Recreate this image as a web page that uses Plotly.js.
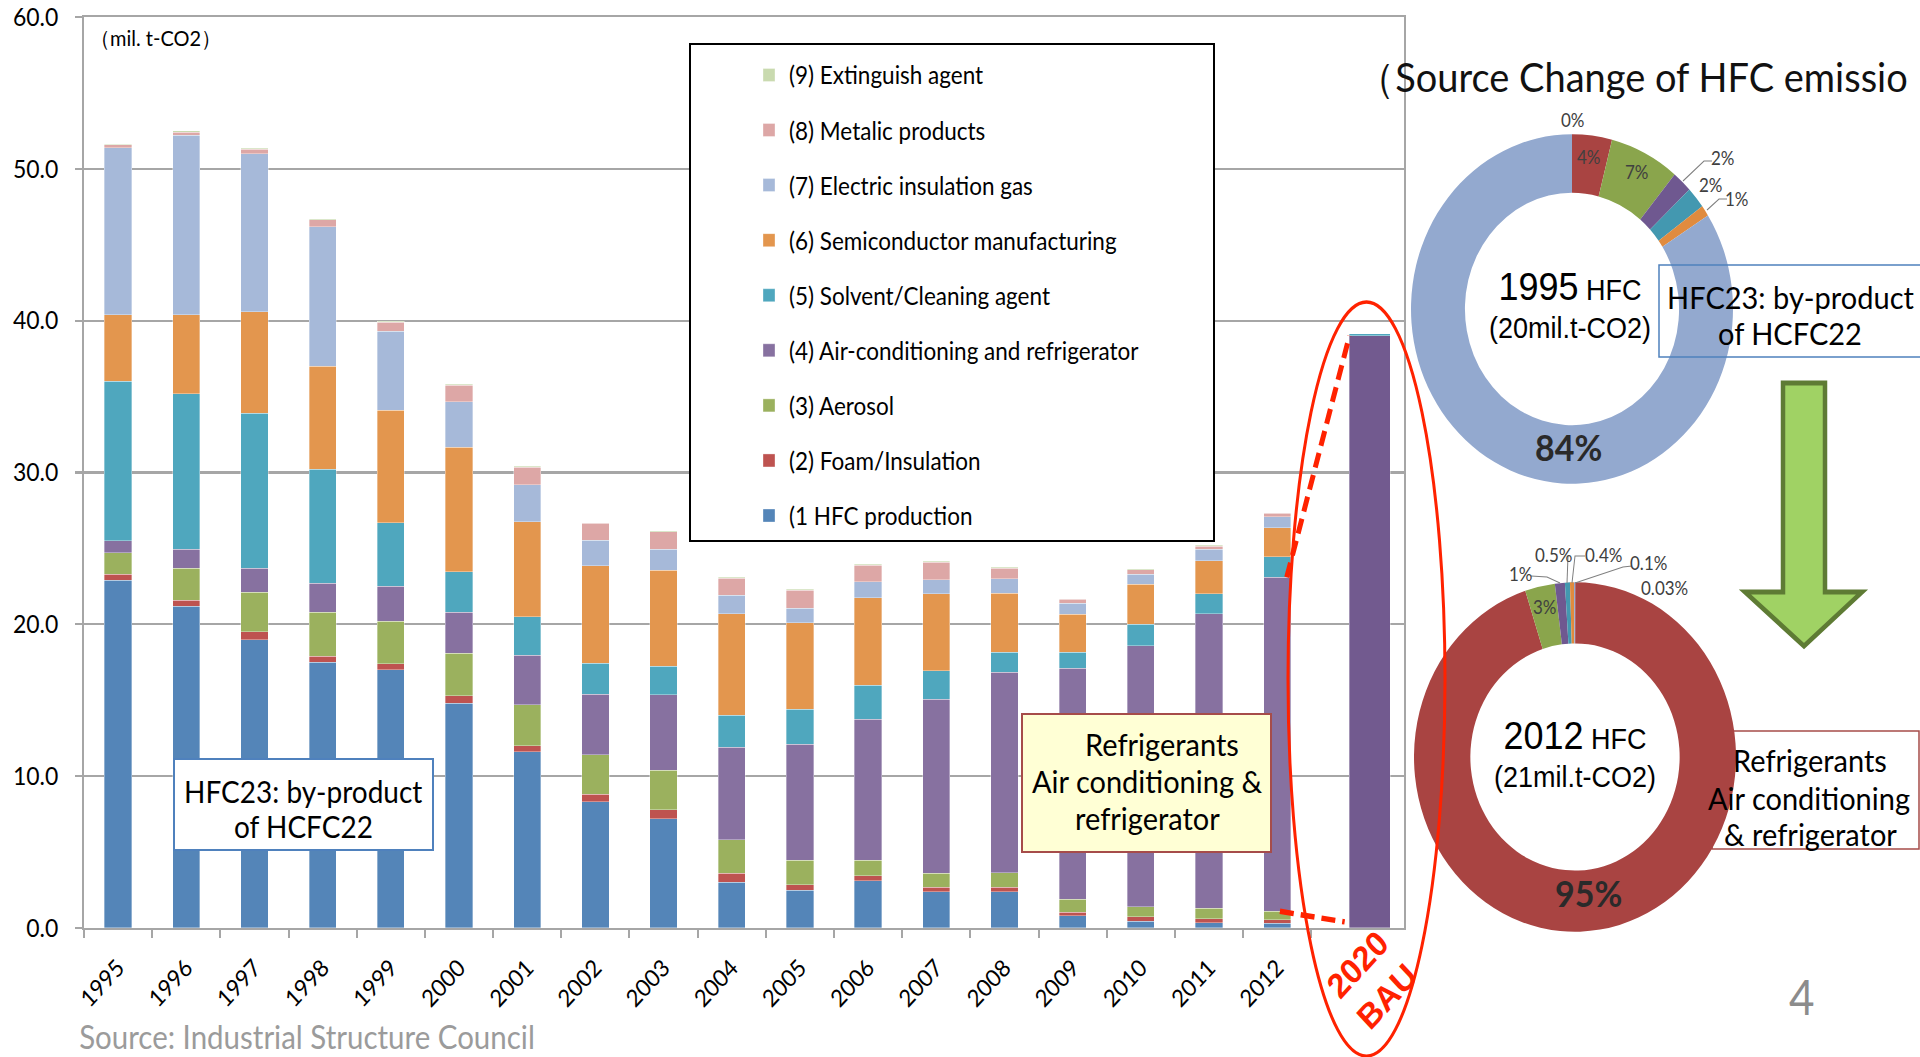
<!DOCTYPE html>
<html><head><meta charset="utf-8">
<script src="https://cdn.plot.ly/plotly-3.0.1.min.js"></script>
<style>
html,body{margin:0;padding:0;overflow:hidden;background:#fff;}
#wrap{width:1920px;height:1057px;overflow:hidden;position:relative;}
#chart{width:1920px;height:974px;transform:scaleY(1.08522);transform-origin:0 0;}
</style></head>
<body><div id="wrap"><div id="chart"></div></div>
<script>
// ---------------- data ----------------
const years = ['1995','1996','1997','1998','1999','2000','2001','2002','2003','2004','2005','2006','2007','2008','2009','2010','2011','2012','2020 BAU'];
const hfcProduction = [22.9,21.2,19.0,17.5,17.0,14.8,11.6,8.3,7.2,3.0,2.5,3.1,2.4,2.4,0.8,0.45,0.35,0.3,0];
const foamInsulation = [0.4,0.4,0.5,0.4,0.4,0.5,0.4,0.5,0.6,0.6,0.35,0.35,0.3,0.3,0.25,0.3,0.25,0.25,0];
const aerosol = [1.4,2.1,2.6,2.9,2.8,2.8,2.7,2.6,2.6,2.2,1.6,1.0,0.9,0.95,0.85,0.65,0.7,0.55,0];
const airConditioning = [0.8,1.25,1.6,1.9,2.3,2.7,3.25,4.0,4.95,6.1,7.65,9.3,11.45,13.2,15.2,17.2,19.4,22.0,39.0];
const solventCleaning = [10.5,10.25,10.2,7.5,4.2,2.65,2.55,2.05,1.9,2.1,2.3,2.25,1.9,1.3,1.05,1.4,1.3,1.35,0.15];
const semiconductor = [4.4,5.2,6.7,6.8,7.4,8.2,6.25,6.4,6.3,6.7,5.7,5.75,5.05,3.9,2.5,2.65,2.2,1.9,0];
const electricInsulation = [11.0,11.8,10.4,9.2,5.2,3.0,2.45,1.7,1.4,1.2,0.95,1.05,0.95,0.95,0.75,0.65,0.75,0.75,0];
const metalicProducts = [0.2,0.2,0.3,0.45,0.6,1.1,1.15,1.1,1.15,1.15,1.2,1.1,1.15,0.7,0.25,0.3,0.2,0.2,0];
const extinguishAgent = [0.02,0.1,0.05,0.05,0.05,0.05,0.05,0.05,0.05,0.05,0.05,0.05,0.05,0.05,0.05,0.05,0.05,0.05,0];
const seriesNames = ['(1 HFC production','(2) Foam/Insulation','(3) Aerosol','(4) Air-conditioning and refrigerator','(5) Solvent/Cleaning agent','(6) Semiconductor manufacturing','(7) Electric insulation gas','(8) Metalic products','(9) Extinguish agent'];
const tickYears = years.slice(0, 18);

const donutCategories = ['Extinguish agent','Air-conditioning and refrigerator','Aerosol','Foam/Insulation','Solvent/Cleaning agent','Semiconductor manufacturing','HFC23 by-product'];
const share1995 = [0, 4, 7, 2, 2, 1, 84];
const share2012 = [0.03, 95, 3, 1, 0.5, 0.4, 0.1];

// ---------------- helpers (layout only) ----------------
const K = 1057/974;
const W = 1920, H = 974;
const px = x => x / W;
const py = y => 1 - y / 1057;
const dom = (cx, cy, r) => ({x:[px(cx-r), px(cx+r)], y:[py(cy + r*K), py(cy - r*K)]});
const CAL = 'Lato, "Open Sans", sans-serif';
const ARI = '"Liberation Sans", Arial, sans-serif';
const GRID = '#A6A6A6';

const barColors = ['#5485B8','#BE5350','#9BB15E','#8771A0','#4FA7BE','#E3964E','#A6B9D9','#DDA7A6','#C9DAAF'];
const seriesData = [hfcProduction, foamInsulation, aerosol, airConditioning, solventCleaning, semiconductor, electricInsulation, metalicProducts, extinguishAgent];
const isBAU = years.map(y => y === '2020 BAU');
const widths = isBAU.map(b => b ? 0.6 : 0.4);
const offsets = isBAU.map(b => b ? 0.06 : -0.2);

const traces = seriesData.map((vals, i) => ({
  type: 'bar', x: years, y: vals, name: seriesNames[i],
  width: widths, offset: offsets, legendgroup: 'g' + i, legendrank: 100 - i,
  marker: {color: i === 3 ? isBAU.map(b => b ? '#725A8F' : barColors[3]) : barColors[i],
           line: {color: 'rgba(255,255,255,0.55)', width: 0.6}},
  hoverinfo: 'skip'
}));

const donutColors = ['#4F81BD','#A94442','#8AA54C','#6F5890','#4398B0','#E08B3E','#93A9CF'];
traces.push({type:'pie', values: share1995, labels: donutCategories, sort:false, direction:'clockwise', rotation:0,
  hole:0.665, domain: dom(1572, 309, 161), marker:{colors: donutColors, line:{width:0}},
  textinfo:'none', showlegend:false, hoverinfo:'skip'});
traces.push({type:'pie', values: share2012, labels: donutCategories, sort:false, direction:'clockwise', rotation:0,
  hole:0.65, domain: dom(1575, 757, 161), marker:{colors: donutColors, line:{width:0}},
  textinfo:'none', showlegend:false, hoverinfo:'skip'});

// derived positions for dashed guide lines
const i12 = years.indexOf('2012'), iB = years.indexOf('2020 BAU');
const top4_2012 = hfcProduction[i12] + foamInsulation[i12] + aerosol[i12] + airConditioning[i12];
const top3_2012 = hfcProduction[i12] + foamInsulation[i12] + aerosol[i12];

const pct = v => v + '%';
const small = {family: CAL, size: 17, color: '#404040'};
const big = {family: CAL, size: 34, color: '#2A2A2A', weight: 'bold'};
const ann = [];
const A = (o) => ann.push(Object.assign({xref:'paper', yref:'paper', showarrow:false, xanchor:'center', yanchor:'middle'}, o));
const boxFont = s => ({family:CAL, size:s, color:'#000'});

A({text:'（mil. t-CO2）', x:px(88), xanchor:'left', y:py(37), font:{family:CAL, size:20, color:'#000'}});
// left HFC23 box text
A({text:'HFC23: by-product', x:px(303), y:py(791), font:boxFont(28)});
A({text:'of HCFC22', x:px(303), y:py(826), font:boxFont(28)});
// refrigerants box text
A({text:'Refrigerants', x:px(1162), y:py(744), font:boxFont(29)});
A({text:'Air conditioning &', x:px(1147), y:py(781), font:boxFont(29)});
A({text:'refrigerator', x:px(1147), y:py(818), font:boxFont(29)});
A({text:'2020<br>BAU', x:px(1372), y:py(981), textangle:-45, font:{family:ARI, size:32, color:'#FF2200', weight:'bold'}});
A({text:'（Source Change of HFC emissio', x:px(1355), xanchor:'left', y:py(76), font:{family:CAL, size:38, color:'#111'}});
// donut centre texts
A({text:'<span style="font-size:36px">1995</span> HFC<br>(20mil.t-CO2)', x:px(1570), y:py(304), font:{family:ARI, size:27, color:'#000'}});
A({text:'<span style="font-size:36px">2012</span> HFC<br>(21mil.t-CO2)', x:px(1575), y:py(753), font:{family:ARI, size:27, color:'#000'}});
// right-hand boxes text
A({text:'HFC23: by-product', x:px(1791), y:py(297), font:boxFont(29)});
A({text:'of HCFC22', x:px(1790), y:py(333), font:boxFont(29)});
A({text:'Refrigerants', x:px(1810), y:py(759), font:boxFont(29)});
A({text:'Air conditioning', x:px(1809), y:py(797), font:boxFont(29)});
A({text:'& refrigerator', x:px(1810), y:py(834), font:boxFont(29)});
// donut 1995 labels
A({text:pct(share1995[0]), x:px(1573), y:py(120), font:small});
A({text:pct(share1995[1]), x:px(1589), y:py(157), font:small});
A({text:pct(share1995[2]), x:px(1637), y:py(172), font:small});
A({text:pct(share1995[3]), x:px(1723), y:py(158), font:small});
A({text:pct(share1995[4]), x:px(1711), y:py(185), font:small});
A({text:pct(share1995[5]), x:px(1737), y:py(199), font:small});
A({text:pct(share1995[6]), x:px(1568), y:py(447), font:big});
// donut 2012 labels
A({text:pct(share2012[0]), x:px(1664), y:py(588), font:small});
A({text:pct(share2012[1]), x:px(1588), y:py(893), font:big});
A({text:pct(share2012[2]), x:px(1545), y:py(607), font:small});
A({text:pct(share2012[3]), x:px(1521), y:py(573), font:small});
A({text:pct(share2012[4]), x:px(1553), y:py(555), font:small});
A({text:pct(share2012[5]), x:px(1603), y:py(555), font:small});
A({text:pct(share2012[6]), x:px(1648), y:py(563), font:small});
// page number and source
A({text:'4', x:px(1802), y:py(996), font:{family:CAL, size:44, color:'#8C8C8C'}});
A({text:'Source: Industrial Structure Council', x:px(77), xanchor:'left', y:py(1037), font:{family:CAL, size:29.5, color:'#9B9B9B'}});

const P = pts => 'M' + pts.map(p => px(p[0]) + ',' + py(p[1])).join(' L');
const R = (x0, y0, x1, y1, fill, col, w, layer) => ({type:'rect', xref:'paper', yref:'paper', x0:px(x0), x1:px(x1), y0:py(y1), y1:py(y0),
  fillcolor:fill, line:{color:col, width:w}, layer:layer});
const leader = {color:'#7F7F7F', width:1};
const shapes = [
  R(690, 44, 1214, 541, '#fff', '#000', 2, 'above'),
  R(174, 759, 433, 850, '#fff', '#4F81BD', 2, 'above'),
  R(1022, 714, 1271, 852, '#FFFFD5', '#A64C4A', 2, 'above'),
  R(1659, 265, 1930, 357, 'rgba(0,0,0,0)', '#4F81BD', 1.5, 'above'),
  R(1712, 731, 1919, 849, 'rgba(0,0,0,0)', '#A64C4A', 1.5, 'below'),
  {type:'path', xref:'paper', yref:'paper', path: P([[1783,383],[1825,383],[1825,592],[1862,592],[1804,646],[1745,592],[1783,592]]) + ' Z',
   fillcolor:'#A0D264', line:{color:'#5E7B34', width:4.5}, layer:'above'},
  {type:'circle', xref:'paper', yref:'paper', x0:px(1288), x1:px(1445), y0:py(1056), y1:py(302), line:{color:'#FF2200', width:3}},
  {type:'line', xref:'x', yref:'y', x0:i12 + 0.14, y0:top4_2012, x1:iB + offsets[iB], y1:airConditioning[iB], line:{color:'#FF2200', width:5, dash:'14px,7px'}},
  {type:'line', xref:'x', yref:'y', x0:i12 + 0.04, y0:top3_2012, x1:iB - 0.01, y1:0.4, line:{color:'#FF2200', width:5, dash:'14px,7px'}},
  {type:'path', xref:'paper', yref:'paper', path:P([[1683,181],[1704,161],[1712,161]]), line:leader},
  {type:'path', xref:'paper', yref:'paper', path:P([[1707,210],[1719,199],[1727,199]]), line:leader},
  {type:'path', xref:'paper', yref:'paper', path:P([[1531,576],[1547,577],[1560,583]]), line:leader},
  {type:'path', xref:'paper', yref:'paper', path:P([[1567,583],[1568,556]]), line:leader},
  {type:'path', xref:'paper', yref:'paper', path:P([[1572,583],[1575,556],[1585,556]]), line:leader},
  {type:'path', xref:'paper', yref:'paper', path:P([[1575,583],[1623,567],[1632,566]]), line:leader}
];

const layout = {
  width: W, height: H, margin:{l:0, r:0, t:0, b:0, pad:0},
  paper_bgcolor:'#fff', plot_bgcolor:'#fff', barmode:'stack', hovermode:false,
  font:{family:CAL, color:'#000'},
  xaxis:{type:'category', domain:[px(84), px(1404)], range:[-0.5, 18.86], categoryorder:'array', categoryarray: years,
    tickmode:'array', tickvals: tickYears, ticktext: tickYears, tickson:'boundaries', ticks:'outside', ticklen:7, tickwidth:2, tickcolor:GRID,
    showline:true, linecolor:GRID, linewidth:2, mirror:true, showgrid:false, zeroline:false, tickangle:-45, ticklabelstandoff:13,
    tickfont:{family:CAL, size:22, color:'#000'}, fixedrange:true},
  yaxis:{domain:[py(928), py(17)], range:[0, 60], dtick:10, tick0:0, tickformat:'.1f', showgrid:true, gridcolor:GRID, gridwidth:2,
    showline:true, linecolor:GRID, linewidth:2, mirror:true, ticks:'outside', ticklen:7, tickwidth:2, tickcolor:GRID, zeroline:false,
    ticklabelstandoff:12, tickfont:{family:CAL, size:23, color:'#000'}, fixedrange:true},
  showlegend:true,
  legend:{x:px(749), xanchor:'left', y:py(52), yanchor:'top', traceorder:'grouped', tracegroupgap:18.5,
    bgcolor:'rgba(0,0,0,0)', borderwidth:0, font:{family:CAL, size:22.5, color:'#000'}},
  annotations: ann, shapes: shapes
};

Plotly.newPlot('chart', traces, layout, {staticPlot:true, displayModeBar:false});
</script></body></html>
